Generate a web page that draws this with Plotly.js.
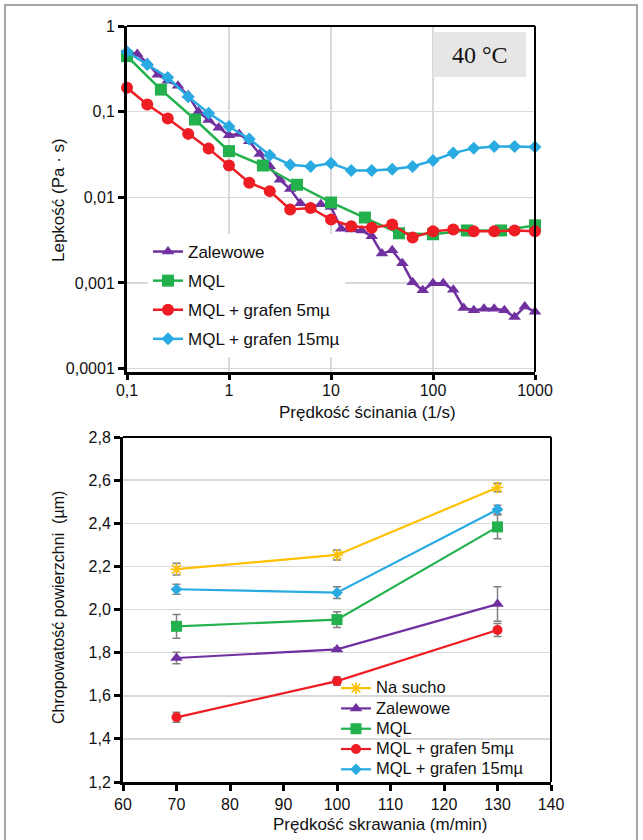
<!DOCTYPE html>
<html>
<head>
<meta charset="utf-8">
<script src="https://cdn.plot.ly/plotly-3.0.1.min.js"></script>
<style>html,body{margin:0;padding:0;background:#fff}</style>
</head>
<body>
<div id="chart" style="width:643px;height:840px"></div>
<script>
// ---- Lepkość w funkcji prędkości ścinania (40 °C) ----
const shearZalewowe = [0.1, 0.126, 0.158, 0.2, 0.251, 0.316, 0.398, 0.501, 0.631, 0.794,
  1, 1.26, 1.58, 2, 2.51, 3.16, 3.98, 5.01, 6.31, 7.94,
  10, 12.6, 15.8, 20, 25.1, 31.6, 39.8, 50.1, 63.1, 79.4,
  100, 126, 158, 200, 251, 316, 398, 501, 631, 794, 1000];
const viscZalewowe = [0.50, 0.47, 0.37, 0.27, 0.23, 0.20, 0.155, 0.10, 0.08, 0.065,
  0.053, 0.055, 0.045, 0.032, 0.023, 0.016, 0.0125, 0.0085, 0.0077, 0.0083,
  0.0077, 0.0043, 0.0042, 0.0041, 0.0035, 0.0022, 0.0024, 0.0017, 0.00102, 0.00082,
  0.00099, 0.00099, 0.00083, 0.00051, 0.00048, 0.0005, 0.0005, 0.00048, 0.0004, 0.00053, 0.00046];

const shearMQL = [0.1, 0.215, 0.464, 1, 2.15, 4.64, 10, 21.5, 46.4, 100, 215, 464, 1000];
const viscMQL = [0.445, 0.181, 0.081, 0.0346, 0.0235, 0.014, 0.0087, 0.0058, 0.0038, 0.0037, 0.0041, 0.0041, 0.0047];

const shearGrafen = [0.1, 0.158, 0.251, 0.398, 0.631, 1, 1.58, 2.51, 3.98, 6.31,
  10, 15.8, 25.1, 39.8, 63.1, 100, 158, 251, 398, 631, 1000];
const viscGrafen5 = [0.19, 0.121, 0.083, 0.055, 0.037, 0.0235, 0.0148, 0.0118, 0.0072, 0.0075,
  0.0055, 0.0046, 0.0044, 0.0048, 0.0034, 0.0040, 0.0042, 0.0040, 0.0040, 0.0041, 0.0040];
const viscGrafen15 = [0.50, 0.355, 0.25, 0.149, 0.096, 0.067, 0.048, 0.031, 0.024, 0.0229,
  0.025, 0.0205, 0.0205, 0.0213, 0.0229, 0.0269, 0.0328, 0.0375, 0.0392, 0.0392, 0.0386];

const shearTickVals = [0.1, 1, 10, 100, 1000];
const shearTickText = ['0,1', '1', '10', '100', '1000'];
const viscTickVals = [0.0001, 0.001, 0.01, 0.1, 1];
const viscTickText = ['0,0001', '0,001', '0,01', '0,1', '1'];

// ---- Chropowatość powierzchni w funkcji prędkości skrawania ----
const cuttingSpeed = [70, 100, 130];
const raNaSucho = [2.187, 2.253, 2.566];
const errNaSucho = [0.027, 0.023, 0.02];
const raZalewowe = [1.775, 1.815, 2.025];
const errZalewowe = [0.027, 0.008, 0.08];
const raMQL = [1.922, 1.953, 2.383];
const errMQL = [0.055, 0.037, 0.055];
const raGrafen5 = [1.50, 1.668, 1.905];
const errGrafen5 = [0.023, 0.019, 0.03];
const raGrafen15 = [2.094, 2.078, 2.464];
const errGrafen15 = [0.023, 0.027, 0.02];

const speedTickVals = [60, 70, 80, 90, 100, 110, 120, 130, 140];
const speedTickText = ['60', '70', '80', '90', '100', '110', '120', '130', '140'];
const raTickVals = [1.2, 1.4, 1.6, 1.8, 2.0, 2.2, 2.4, 2.6, 2.8];
const raTickText = ['1,2', '1,4', '1,6', '1,8', '2,0', '2,2', '2,4', '2,6', '2,8'];

const C = {
  purple: '#7030a0', green: '#22b14c', red: '#ee1d23', cyan: '#29abe2', yellow: '#ffc000', err: '#808080'
};
const FONT = 'Liberation Sans, Arial, sans-serif';
const W = 643, H = 840;
const px = v => v / W;          // pixel column -> paper x
const py = v => 1 - v / H;      // pixel row -> paper y

// lower legend: compact rows, but the labels themselves set larger
const bigLabel = s => '<span style="font-size:16.5px">' + s + '</span>';

function topTrace(x, y, name, color, symbol, size, group) {
  return {
    type: 'scatter', mode: 'lines+markers', x: x, y: y, name: name,
    xaxis: 'x', yaxis: 'y', legend: 'legend', legendgroup: group,
    line: {color: color, width: 2.5},
    marker: {symbol: symbol, size: size, color: color},
    cliponaxis: false, hoverinfo: 'skip'
  };
}
function bottomTrace(y, err, name, color, symbol, size) {
  const marker = {symbol: symbol, size: size, color: color};
  if (symbol.indexOf('open') >= 0) marker.line = {color: color, width: 1.6};
  return {
    type: 'scatter', mode: 'lines+markers', x: cuttingSpeed, y: y, name: bigLabel(name),
    xaxis: 'x2', yaxis: 'y2', legend: 'legend2',
    line: {color: color, width: 2.2},
    marker: marker,
    error_y: {type: 'data', array: err, visible: true, color: C.err, thickness: 1.5, width: 4},
    cliponaxis: false, hoverinfo: 'skip'
  };
}

const data = [
  topTrace(shearZalewowe, viscZalewowe, 'Zalewowe', C.purple, 'triangle-up', 11, 'a'),
  topTrace(shearMQL, viscMQL, 'MQL', C.green, 'square', 12, 'b'),
  topTrace(shearGrafen, viscGrafen5, 'MQL + grafen 5mµ', C.red, 'circle', 12, 'c'),
  topTrace(shearGrafen, viscGrafen15, 'MQL + grafen 15mµ', C.cyan, 'diamond', 10, 'd'),
  bottomTrace(raNaSucho, errNaSucho, 'Na sucho', C.yellow, 'asterisk-open', 10),
  bottomTrace(raZalewowe, errZalewowe, 'Zalewowe', C.purple, 'triangle-up', 11),
  bottomTrace(raMQL, errMQL, 'MQL', C.green, 'square', 11),
  bottomTrace(raGrafen5, errGrafen5, 'MQL + grafen 5mµ', C.red, 'circle', 10),
  bottomTrace(raGrafen15, errGrafen15, 'MQL + grafen 15mµ', C.cyan, 'diamond', 9)
];

const axisCommon = {
  ticks: 'outside', ticklen: 6, tickwidth: 3, tickcolor: '#000',
  showline: true, linewidth: 3, linecolor: '#000',
  zeroline: false, gridcolor: '#d9d9d9', gridwidth: 1.5,
  tickfont: {family: FONT, size: 16, color: '#111'}
};

const frame = (xr, yr) => [
  {type: 'line', xref: xr + ' domain', yref: yr + ' domain', x0: 0, x1: 1, y0: 1, y1: 1, line: {color: '#000', width: 2}},
  {type: 'line', xref: xr + ' domain', yref: yr + ' domain', x0: 1, x1: 1, y0: 0, y1: 1, line: {color: '#000', width: 2}}
];

const layout = {
  width: W, height: H,
  margin: {l: 0, r: 0, t: 0, b: 0},
  paper_bgcolor: '#fff', plot_bgcolor: '#fff',
  font: {family: FONT, color: '#111'},
  xaxis: Object.assign({}, axisCommon, {
    type: 'log', range: [-1, 3], domain: [px(127), px(535)], anchor: 'y',
    tickvals: shearTickVals, ticktext: shearTickText, showgrid: true,
    ticklen: 5, ticklabelstandoff: -3
  }),
  yaxis: Object.assign({}, axisCommon, {
    type: 'log', range: [-4.04, 0], domain: [py(372), py(26)], anchor: 'x',
    tickvals: viscTickVals, ticktext: viscTickText, showgrid: true
  }),
  xaxis2: Object.assign({}, axisCommon, {
    range: [60, 140], domain: [px(123), px(551)], anchor: 'y2',
    tickvals: speedTickVals, ticktext: speedTickText, showgrid: false
  }),
  yaxis2: Object.assign({}, axisCommon, {
    range: [1.2, 2.8], domain: [py(782), py(437)], anchor: 'x2',
    tickvals: raTickVals, ticktext: raTickText, showgrid: true
  }),
  showlegend: true,
  legend: {
    x: px(148), y: py(234), xanchor: 'left', yanchor: 'top',
    bgcolor: '#fff', borderwidth: 0, tracegroupgap: 4,
    font: {family: FONT, size: 17, color: '#111'}
  },
  legend2: {
    x: px(336), y: py(673), xanchor: 'left', yanchor: 'top',
    bgcolor: 'rgba(255,255,255,0)', borderwidth: 0,
    font: {family: FONT, size: 13.3, color: '#111'}
  },
  shapes: [].concat(frame('x', 'y'), frame('x2', 'y2'), [
    // white patch under the lower legend: hides the gridlines, keeps the lines above it
    {type: 'rect', xref: 'paper', yref: 'paper', x0: px(336), x1: px(549), y0: py(780), y1: py(679),
      fillcolor: '#fff', line: {width: 0}, layer: 'between'},
    {type: 'rect', xref: 'paper', yref: 'paper', x0: px(433), x1: px(526), y0: py(77), y1: py(32),
      fillcolor: '#e6e6e6', line: {width: 0}, layer: 'above'},
    {type: 'rect', xref: 'paper', yref: 'paper', x0: px(5), x1: px(637), y0: -0.02, y1: py(5),
      fillcolor: 'rgba(0,0,0,0)', line: {color: '#8a8a8a', width: 1.5}}
  ]),
  annotations: [
    {text: '40 °C', xref: 'paper', yref: 'paper', x: px(480), y: py(55), showarrow: false,
      xanchor: 'center', yanchor: 'middle', font: {family: 'Liberation Serif, Times New Roman, serif', size: 24, color: '#111'}},
    {text: 'Prędkość ścinania (1/s)', xref: 'paper', yref: 'paper', x: px(367), y: py(412), showarrow: false,
      xanchor: 'center', yanchor: 'middle', font: {family: FONT, size: 17, color: '#111'}},
    {text: 'Lepkość (Pa · s)', xref: 'paper', yref: 'paper', x: px(58), y: py(200), showarrow: false,
      textangle: -90, xanchor: 'center', yanchor: 'middle', font: {family: FONT, size: 17, color: '#111'}},
    {text: 'Prędkość skrawania (m/min)', xref: 'paper', yref: 'paper', x: px(380), y: py(824), showarrow: false,
      xanchor: 'center', yanchor: 'middle', font: {family: FONT, size: 17, color: '#111'}},
    {text: 'Chropowatość powierzchni  (µm)', xref: 'paper', yref: 'paper', x: px(58), y: py(608), showarrow: false,
      textangle: -90, xanchor: 'center', yanchor: 'middle', font: {family: FONT, size: 16, color: '#111'}}
  ]
};

Plotly.newPlot('chart', data, layout, {staticPlot: true, displayModeBar: false});
</script>
</body>
</html>
